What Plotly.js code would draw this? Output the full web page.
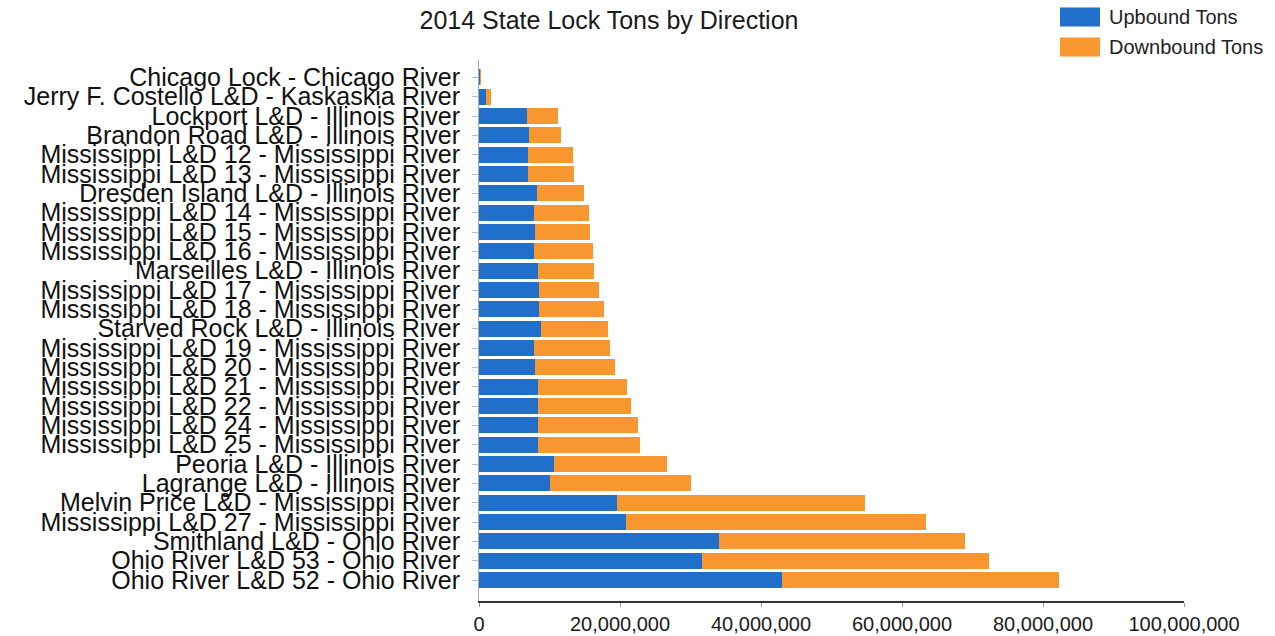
<!DOCTYPE html>
<html>
<head>
<meta charset="utf-8">
<script src="https://cdn.plot.ly/plotly-3.0.1.min.js"></script>
<style>html,body{margin:0;padding:0;background:#fff;}#chart{width:1275px;height:636px;}</style>
</head>
<body>
<div id="chart"></div>
<script>
const locks = [
  "Chicago Lock - Chicago River",
  "Jerry F. Costello L&D - Kaskaskia River",
  "Lockport L&D - Illinois River",
  "Brandon Road L&D - Illinois River",
  "Mississippi L&D 12 - Mississippi River",
  "Mississippi L&D 13 - Mississippi River",
  "Dresden Island L&D - Illinois River",
  "Mississippi L&D 14 - Mississippi River",
  "Mississippi L&D 15 - Mississippi River",
  "Mississippi L&D 16 - Mississippi River",
  "Marseilles L&D - Illinois River",
  "Mississippi L&D 17 - Mississippi River",
  "Mississippi L&D 18 - Mississippi River",
  "Starved Rock L&D - Illinois River",
  "Mississippi L&D 19 - Mississippi River",
  "Mississippi L&D 20 - Mississippi River",
  "Mississippi L&D 21 - Mississippi River",
  "Mississippi L&D 22 - Mississippi River",
  "Mississippi L&D 24 - Mississippi River",
  "Mississippi L&D 25 - Mississippi River",
  "Peoria L&D - Illinois River",
  "Lagrange L&D - Illinois River",
  "Melvin Price L&D - Mississippi River",
  "Mississippi L&D 27 - Mississippi River",
  "Smithland L&D - Ohio River",
  "Ohio River L&D 53 - Ohio River",
  "Ohio River L&D 52 - Ohio River"
];
const upboundTons = [
  150000, 1000000, 6800000, 7100000, 7000000, 7000000, 8200000, 7800000, 8000000, 7800000,
  8400000, 8500000, 8500000, 8800000, 7800000, 8000000, 8300000, 8300000, 8400000, 8400000,
  10700000, 10100000, 19600000, 20800000, 34000000, 31700000, 43000000
];
const downboundTons = [
  100000, 700000, 4400000, 4500000, 6300000, 6500000, 6700000, 7800000, 7700000, 8300000,
  7900000, 8500000, 9300000, 9500000, 10800000, 11300000, 12700000, 13200000, 14200000, 14400000,
  16000000, 19900000, 35200000, 42600000, 35000000, 40700000, 39300000
];
const seriesNames = ["Upbound Tons", "Downbound Tons"];
const seriesColors = ["#1f6fcb", "#f8962f"];
const xTicks = [0, 20000000, 40000000, 60000000, 80000000, 100000000];
const xTickText = ["0", "20,000,000", "40,000,000", "60,000,000", "80,000,000", "100,000,000"];

const FONT = "Liberation Sans, Arial, sans-serif";
const data = [
  {type: "bar", orientation: "h", name: seriesNames[0], y: locks, x: upboundTons,
   marker: {color: seriesColors[0]}},
  {type: "bar", orientation: "h", name: seriesNames[1], y: locks, x: downboundTons,
   marker: {color: seriesColors[1]}}
];
const n = locks.length;

// legend drawn as large swatches
const W = 1275, H = 636;
const shapes = [], annotations = [];
seriesNames.forEach((nm, i) => {
  const yc = 17 + i * 30;
  shapes.push({type: "rect", xref: "paper", yref: "paper", layer: "above",
    x0: (1060 - 479) / 705, x1: (1100 - 479) / 705,
    y0: (601 - (yc + 9.5)) / 541, y1: (601 - (yc - 9.5)) / 541,
    fillcolor: seriesColors[i], line: {width: 0}});
  annotations.push({xref: "paper", yref: "paper", x: (1107 - 479) / 705, xanchor: "left",
    y: (601 - yc) / 541, yanchor: "middle", text: nm, showarrow: false,
    font: {size: 20, color: "#222", family: FONT}});
});

const layout = {
  width: W, height: H,
  margin: {l: 479, r: 91, t: 60, b: 35, pad: 0},
  paper_bgcolor: "#fff", plot_bgcolor: "#fff",
  barmode: "stack", bargap: 0.17,
  font: {family: FONT, color: "#222"},
  title: {text: "2014 State Lock Tons by Direction", x: 609 / W, xref: "container", xanchor: "center",
          y: 1 - 20 / H, yref: "container", yanchor: "middle",
          font: {size: 25, color: "#1a1a1a", family: FONT}},
  xaxis: {range: [0, 100000000], tickmode: "array", tickvals: xTicks, ticktext: xTickText,
          showgrid: false, zeroline: false, showline: true, linecolor: "#333", linewidth: 2,
          ticks: "outside", ticklen: 4, tickcolor: "#999",
          tickfont: {size: 20, color: "#1a1a1a"}, fixedrange: true},
  yaxis: {type: "category", range: [n - 1 + 1.085, -0.9], tickmode: "array",
          tickvals: locks, ticktext: locks,
          showgrid: false, zeroline: false,
          showline: true, linecolor: "#aaa", linewidth: 1,
          ticks: "outside", ticklen: 6, tickcolor: "#bbb", ticklabelstandoff: 7,
          tickfont: {size: 25, color: "#111"}, automargin: false},
  showlegend: false,
  shapes: shapes,
  annotations: annotations
};
Plotly.newPlot("chart", data, layout, {displayModeBar: false, staticPlot: true});
</script>
</body>
</html>
